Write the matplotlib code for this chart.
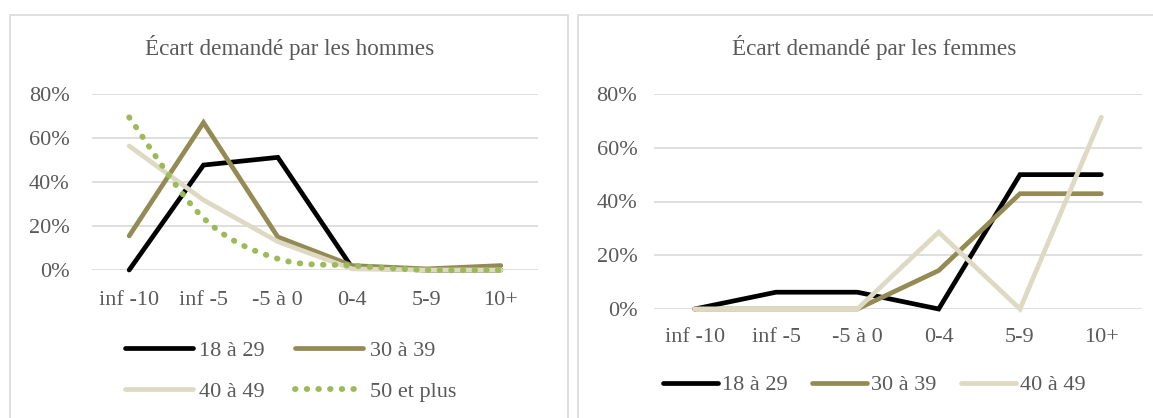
import numpy as np
import matplotlib
matplotlib.use("Agg")
import matplotlib.pyplot as plt
from matplotlib.path import Path
from matplotlib.patches import PathPatch, Rectangle
from matplotlib.lines import Line2D
from matplotlib.ticker import FuncFormatter

# Données (en %)
categories = ["inf -10", "inf -5", "-5 à 0", "0-4", "5-9", "10+"]

hommes_18_29 = [0.0, 47.7, 51.2, 1.0, 0.0, 0.0]
hommes_30_39 = [15.5, 67.0, 15.0, 2.0, 0.5, 2.0]
hommes_40_49 = [56.4, 31.8, 12.9, 0.5, 0.0, 0.0]
hommes_50_plus = [69.4, 23.6, 5.1, 2.0, 0.0, 0.0]

femmes_18_29 = [0.0, 6.25, 6.25, 0.0, 50.0, 50.0]
femmes_30_39 = [0.0, 0.0, 0.0, 14.3, 42.9, 42.9]
femmes_40_49 = [0.0, 0.0, 0.0, 28.6, 0.0, 71.4]

labels = ["18 à 29", "30 à 39", "40 à 49", "50 et plus"]

NOIR = "#000000"
OLIVE = "#948A54"
BEIGE = "#DDD9C3"
VERT = "#9BBB59"
GRIS_TEXTE = "#595959"
GRIS_GRILLE = "#D9D9D9"
EP = 3.4
EP_POINTS = 4.2
POINTILLE = (0, (0.1, 1.9))

plt.rcParams["font.family"] = ["Liberation Serif", "DejaVu Serif"]

W, H = 1153, 418


def chemin_lisse(x, y):
    """Courbe lissée façon Excel (Catmull-Rom en Bézier)."""
    pts = np.column_stack([x, y]).astype(float)
    ext = np.vstack([pts[0], pts, pts[-1]])
    verts = [pts[0]]
    codes = [Path.MOVETO]
    for i in range(len(pts) - 1):
        p0, p1, p2, p3 = ext[i], ext[i + 1], ext[i + 2], ext[i + 3]
        verts += [p1 + (p2 - p0) / 6, p2 - (p3 - p1) / 6, p2]
        codes += [Path.CURVE4] * 3
    return Path(verts, codes)


def preparer_axe(ax, pad_y, pad_x):
    ax.set_ylim(0, 80)
    ax.set_xlim(-0.5, len(categories) - 0.5)
    ax.set_yticks([0, 20, 40, 60, 80])
    ax.yaxis.set_major_formatter(FuncFormatter(lambda v, p: f"{v:.0f}%"))
    ax.set_xticks(range(len(categories)))
    ax.set_xticklabels(categories)
    ax.tick_params(axis="both", length=0, labelsize=16, colors=GRIS_TEXTE)
    ax.tick_params(axis="x", pad=pad_x)
    ax.tick_params(axis="y", pad=pad_y)
    for s in ax.spines.values():
        s.set_visible(False)
    ax.grid(axis="y", color=GRIS_GRILLE, lw=1.2)
    ax.set_axisbelow(True)


def trace(ax, y, couleur):
    ax.plot(range(len(y)), y, color=couleur, lw=EP,
            solid_capstyle="round", solid_joinstyle="miter", clip_on=False)


fig = plt.figure(figsize=(W / 100, H / 100), dpi=100)

# cadres des deux graphiques
fig.add_artist(Rectangle((10 / W, -0.05), 558 / W, 1.05 - 15.5 / H, fill=False,
                         edgecolor=GRIS_GRILLE, lw=1.2, transform=fig.transFigure))
fig.add_artist(Rectangle((578 / W, -0.05), 600 / W, 1.05 - 15.5 / H, fill=False,
                         edgecolor=GRIS_GRILLE, lw=1.2, transform=fig.transFigure))

# Hommes
ax1 = fig.add_axes([92 / W, (H - 270) / H, 446 / W, 176 / H])
preparer_axe(ax1, 16, 15)
x = np.arange(len(categories))
trace(ax1, hommes_18_29, NOIR)
trace(ax1, hommes_30_39, OLIVE)
trace(ax1, hommes_40_49, BEIGE)
patch = PathPatch(chemin_lisse(x, hommes_50_plus), fill=False, edgecolor=VERT,
                  lw=EP_POINTS, linestyle=POINTILLE, capstyle="round",
                  clip_on=False, zorder=3)
ax1.add_patch(patch)

h = [Line2D([], [], color=c, lw=EP, solid_capstyle="round") for c in (NOIR, OLIVE, BEIGE)]
h.append(Line2D([], [], color=VERT, lw=EP_POINTS, linestyle=POINTILLE, dash_capstyle="round"))
ax1.legend([h[0], h[2], h[1], h[3]], [labels[0], labels[2], labels[1], labels[3]],
           ncol=2, loc="center left", bbox_to_anchor=(125 / W, (H - 371) / H),
           bbox_transform=fig.transFigure, frameon=False, borderpad=0,
           borderaxespad=0, handlelength=3.05, handletextpad=0.3,
           columnspacing=1.35, labelspacing=0.9, fontsize=16,
           labelcolor=GRIS_TEXTE)
fig.text(290 / W, 1 - 47 / H, "Écart demandé par les hommes", ha="center",
         va="center", fontsize=16.7, color=GRIS_TEXTE)

# Femmes
ax2 = fig.add_axes([654 / W, (H - 309) / H, 488 / W, 215 / H])
preparer_axe(ax2, 12, 14)
trace(ax2, femmes_18_29, NOIR)
trace(ax2, femmes_30_39, OLIVE)
trace(ax2, femmes_40_49, BEIGE)
ax2.legend(h[:3], labels[:3], ncol=3, loc="center left",
           bbox_to_anchor=(663 / W, (H - 385) / H), bbox_transform=fig.transFigure,
           frameon=False, borderpad=0, borderaxespad=0, handlelength=2.48,
           handletextpad=0.18, columnspacing=1.1, fontsize=16, labelcolor=GRIS_TEXTE)
fig.text(874 / W, 1 - 47 / H, "Écart demandé par les femmes", ha="center",
         va="center", fontsize=16.7, color=GRIS_TEXTE)

fig.savefig("out.png", dpi=100)
